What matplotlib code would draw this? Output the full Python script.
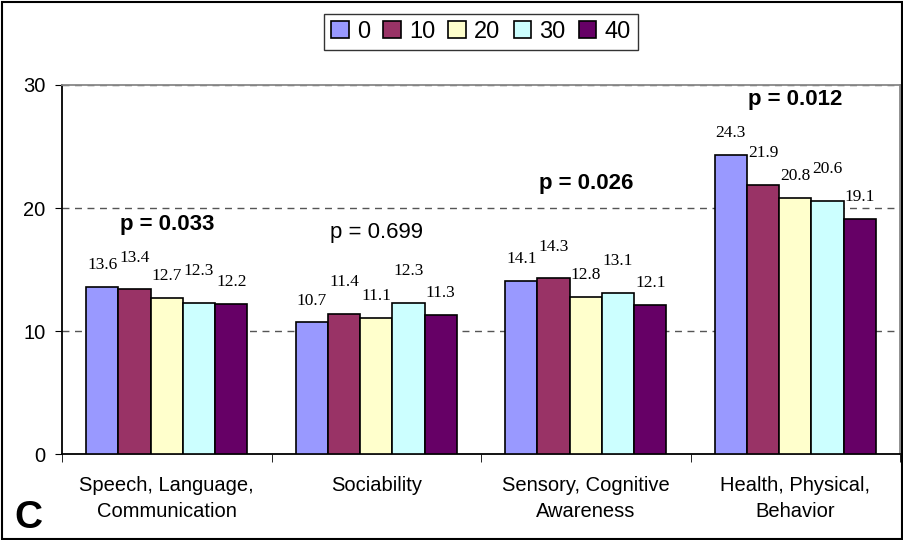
import numpy as np
import matplotlib
matplotlib.use("Agg")
import matplotlib.pyplot as plt
from matplotlib.patches import Rectangle

# ---------------- DATA ----------------
categories = ["Speech, Language,\nCommunication", "Sociability",
              "Sensory, Cognitive\nAwareness", "Health, Physical,\nBehavior"]
series_names = ["0", "10", "20", "30", "40"]
values = [
    [13.6, 10.7, 14.1, 24.3],   # 0
    [13.4, 11.4, 14.3, 21.9],   # 10
    [12.7, 11.1, 12.8, 20.8],   # 20
    [12.3, 12.3, 13.1, 20.6],   # 30
    [12.2, 11.3, 12.1, 19.1],   # 40
]
p_labels = ["p = 0.033", "p = 0.699", "p = 0.026", "p = 0.012"]
p_bold = [True, False, True, True]
p_ypos = [18.7, 18.0, 22.0, 28.8]
yticks = [0, 10, 20, 30]

colors = ["#9999FF", "#993366", "#FFFFCC", "#CCFFFF", "#660066"]

plt.rcParams["font.family"] = ["Liberation Sans", "DejaVu Sans"]

fig = plt.figure(figsize=(9.04, 5.4), dpi=100)
ax = fig.add_axes([0.0686, 0.159, 0.927, 0.6836])

x = np.arange(len(categories))
w = 0.154
for i, (name, vals) in enumerate(zip(series_names, values)):
    pos = x + (i - 2) * w
    ax.bar(pos, vals, w, color=colors[i], edgecolor="black", linewidth=1.2,
           label=name, zorder=3)
    # staggered value labels (like the original's overlap avoidance)
    extra = 7 if (i % 2 == 1) else 0
    for px, v in zip(pos, vals):
        ax.annotate(f"{v}", (px, v), xytext=(0, 10 + extra), textcoords="offset points",
                    ha="center", va="bottom", fontsize=12.5,
                    family=["Liberation Serif", "DejaVu Serif"], zorder=4)

for j, (txt, b, yy) in enumerate(zip(p_labels, p_bold, p_ypos)):
    ax.text(x[j], yy, txt, ha="center", va="center", fontsize=16,
            fontweight="bold" if b else "normal")

ax.set_xlim(-0.5, len(categories) - 0.5)
ax.set_ylim(0, 30)
ax.set_yticks(yticks)
ax.tick_params(axis="y", labelsize=14.5, length=5, direction="out", pad=7)
for t in [10, 20, 30]:
    ax.axhline(t, color="#555555", linestyle=(0, (5, 4)), linewidth=1.0, zorder=1)

ax.set_xticks(x)
ax.set_xticklabels(categories, fontsize=14.5, linespacing=1.45)
ax.tick_params(axis="x", length=0, pad=16)
ax.set_xticks(np.arange(len(categories) + 1) - 0.5, minor=True)
ax.tick_params(axis="x", which="minor", length=6, direction="out")

for s in ["left", "bottom"]:
    ax.spines[s].set_color("black")
    ax.spines[s].set_linewidth(1.3)
for s in ["top", "right"]:
    ax.spines[s].set_color("#888888")
    ax.spines[s].set_linewidth(1.3)

leg = ax.legend(loc="upper center", bbox_to_anchor=(0.5, 1.225), ncol=5,
                fontsize=17, frameon=True, fancybox=False, edgecolor="black",
                handlelength=0.75, handleheight=0.75, handletextpad=0.35,
                columnspacing=0.55, borderpad=0.3)
leg.get_frame().set_linewidth(1.0)

fig.text(0.016, 0.008, "C", fontsize=28, fontweight="bold", ha="left", va="bottom")

fig.patches.append(Rectangle((0.002, 0.002), 0.996, 0.994, transform=fig.transFigure,
                             fill=False, edgecolor="black", linewidth=1.5))

fig.savefig("out.png", dpi=100)
